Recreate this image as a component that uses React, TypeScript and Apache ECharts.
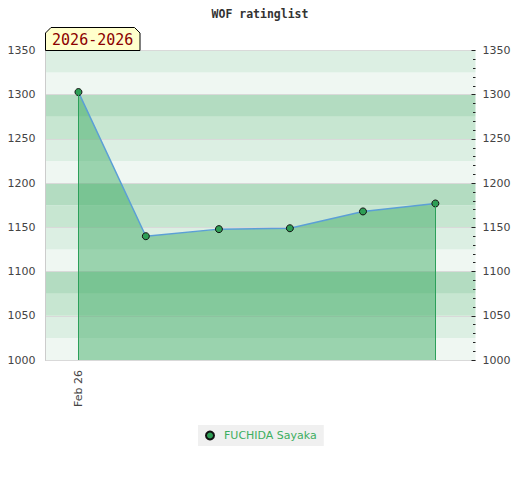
import React, { useEffect, useRef } from "react";
import * as echarts from "echarts";

const titleText = "WOF ratinglist";
const periodLabel = "2026-2026";
const playerName = "FUCHIDA Sayaka";
const xPositions = [0.46, 1.4, 2.42, 3.41, 4.43, 5.44];
const ratings = [1303, 1140, 1148, 1149, 1168, 1177];
const xTickValues = [0.46];
const xTickLabels = ["Feb 26"];
const bandColors = ["#eff7f2", "#dcefe3", "#c7e6d1", "#b3dcc1"];

export default function App() {
  const ref = useRef<HTMLDivElement>(null);
  useEffect(() => {
    if (!ref.current) return;
    const chart = echarts.init(ref.current, null, { renderer: "svg" });
    const points = xPositions.map((x, i) => [x, ratings[i]]);
    const first = points[0];
    const last = points[points.length - 1];
    const labelFont = "DejaVu Sans";
    const plain = (v: number) => String(v);
    chart.setOption({
      animation: false,
      backgroundColor: "#ffffff",
      title: {
        text: titleText,
        left: "center",
        top: 3,
        textStyle: {
          fontFamily: "DejaVu Sans Mono",
          fontWeight: "bold",
          fontSize: 11.5,
          color: "#333",
        },
      },
      grid: { left: 45.5, right: 44.5, top: 50.5, bottom: 120, containLabel: false },
      xAxis: {
        type: "value",
        min: 0,
        max: 6,
        axisLine: { show: true, lineStyle: { color: "#cccccc", width: 1 } },
        axisTick: { show: false },
        splitLine: { show: false },
        axisLabel: {
          customValues: xTickValues,
          rotate: 90,
          margin: 10,
          fontFamily: labelFont,
          fontSize: 11,
          color: "#444",
          formatter: (v: number) => {
            const idx = xTickValues.findIndex((t) => Math.abs(t - v) < 1e-6);
            return idx >= 0 ? xTickLabels[idx] : "";
          },
        },
      },
      yAxis: [
        {
          type: "value",
          min: 1000,
          max: 1350,
          interval: 50,
          position: "left",
          z: 1,
          axisLine: { show: true, lineStyle: { color: "#cccccc", width: 1 } },
          axisTick: { show: false },
          splitLine: { show: true, lineStyle: { color: "#d9d9d9", width: 1 } },
          axisLabel: { margin: 10, fontFamily: labelFont, fontSize: 11, color: "#444", formatter: plain },
        },
        {
          type: "value",
          min: 1000,
          max: 1350,
          interval: 50,
          position: "right",
          z: 1,
          axisLine: { show: false },
          axisTick: { show: true, inside: true, length: 4, lineStyle: { color: "#222" } },
          minorTick: { show: true, splitNumber: 5, length: 2.5, lineStyle: { color: "#222" } },
          splitLine: { show: false },
          axisLabel: { margin: 7, fontFamily: labelFont, fontSize: 11, color: "#444", formatter: plain },
        },
        {
          type: "value",
          min: 1000,
          max: 1350,
          interval: 25,
          position: "left",
          z: 0,
          axisLine: { show: false },
          axisTick: { show: false },
          axisLabel: { show: false },
          splitLine: { show: false },
          splitArea: { show: true, areaStyle: { color: bandColors } },
        },
      ],
      legend: {
        left: 198,
        top: 425,
        backgroundColor: "#f0f0f0",
        padding: [5, 7, 5, 7],
        itemWidth: 8,
        itemHeight: 8,
        icon: "circle",
        textStyle: {
          color: "#3cae5f",
          fontFamily: labelFont,
          fontSize: 11,
          padding: [0, 0, 0, 5],
        },
        data: [playerName],
      },
      series: [
        {
          name: playerName,
          type: "line",
          yAxisIndex: 0,
          data: points,
          symbol: "circle",
          symbolSize: 7,
          z: 3,
          lineStyle: { color: "#5b9fd6", width: 1.5 },
          itemStyle: { color: "#2e9e55", borderColor: "#111", borderWidth: 1 },
          areaStyle: { color: "#34a75b", opacity: 0.45, origin: "start" },
          markLine: {
            silent: true,
            symbol: "none",
            label: { show: false },
            lineStyle: { color: "#2ca05a", width: 1, type: "solid" },
            data: [
              [{ coord: [first[0], 1000] }, { coord: [first[0], first[1]] }],
              [{ coord: [last[0], 1000] }, { coord: [last[0], last[1]] }],
            ],
          },
        },
      ],
      graphic: [
        {
          type: "polygon",
          z: 10,
          shape: {
            points: [
              [45.5, 50.5],
              [45.5, 33],
              [51, 27.5],
              [134.5, 27.5],
              [140, 33],
              [140, 50.5],
            ],
          },
          style: { fill: "#ffffcc", stroke: "#000", lineWidth: 1 },
        },
        {
          type: "text",
          z: 11,
          x: 92.7,
          y: 40,
          style: {
            text: periodLabel,
            fill: "#8b0000",
            font: "15px 'DejaVu Sans Mono'",
            align: "center",
            verticalAlign: "middle",
          },
        },
      ],
    });
    return () => chart.dispose();
  }, []);
  return (
    <div
      ref={ref}
      style={{ position: "fixed", left: 0, top: 0, width: 520, height: 480 }}
    />
  );
}
